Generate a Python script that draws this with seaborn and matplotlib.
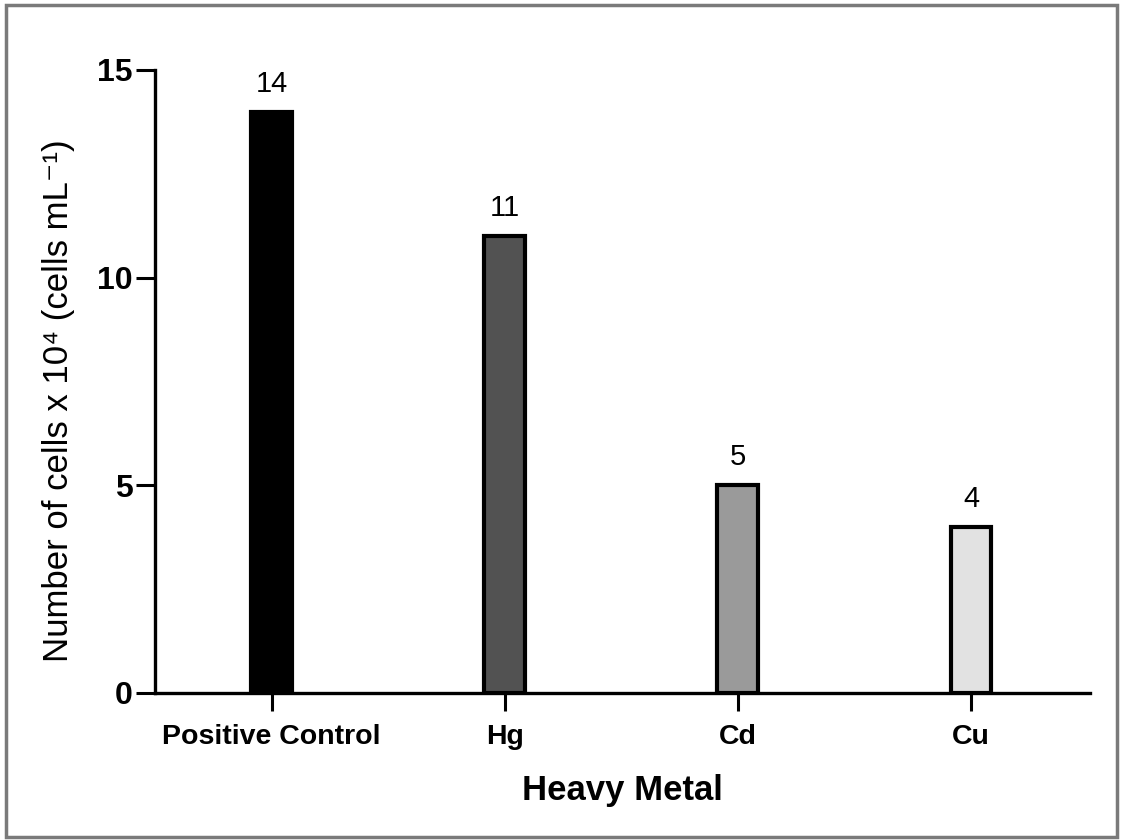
import matplotlib
matplotlib.use("Agg")
import matplotlib.pyplot as plt
import seaborn as sns
from matplotlib.patches import Rectangle

# values
categories = ['Positive Control', 'Hg', 'Cd', 'Cu']
cell_counts = [14, 11, 5, 4]
bar_colors = ['#000000', '#525252', '#9a9a9a', '#e2e2e2']
yticks = [0, 5, 10, 15]

sns.set_style('ticks', rc={'text.color': 'black', 'axes.labelcolor': 'black',
                           'xtick.color': 'black', 'ytick.color': 'black',
                           'axes.edgecolor': 'black'})
plt.rcParams['font.family'] = ['Liberation Sans', 'DejaVu Sans']

fig = plt.figure(figsize=(11.23, 8.40), dpi=100)
ax = fig.add_axes([0.138, 0.175, 0.8326, 0.7417])

sns.barplot(x=categories, y=cell_counts, hue=categories, palette=bar_colors,
            legend=False, width=0.175, edgecolor='black', linewidth=3,
            saturation=1, ax=ax)

ax.set_xlim(-0.5, 3.51)
ax.set_ylim(0, 15)
ax.set_yticks(yticks)
ax.set_yticklabels([str(t) for t in yticks], fontsize=23, fontweight='bold')
ax.set_xticks(range(len(categories)))
ax.set_xticklabels(categories, fontsize=20.5, fontweight='bold')

ax.tick_params(axis='y', length=14, width=2.2, pad=2)
ax.tick_params(axis='x', length=13, width=2.2, pad=9)

sns.despine(ax=ax)
ax.spines['left'].set_linewidth(2.4)
ax.spines['bottom'].set_linewidth(2.4)

for i, v in enumerate(cell_counts):
    ax.annotate(str(v), (i, v), xytext=(0, 10), textcoords='offset points',
                ha='center', va='bottom', fontsize=21)

ax.set_xlabel('Heavy Metal', fontsize=25, fontweight='bold')
ax.xaxis.set_label_coords(0.5, -0.13)
ax.set_ylabel('Number of cells x 10\u2074 (cells mL\u207b\u00b9)', fontsize=25)
ax.yaxis.set_label_coords(-0.085, 0.469)

# outer frame around the picture
fig.patches.append(Rectangle((0.005, 0.004), 0.99, 0.99, transform=fig.transFigure,
                             fill=False, edgecolor='#7a7a7a', linewidth=2.5))

fig.savefig('out.png', dpi=100)
